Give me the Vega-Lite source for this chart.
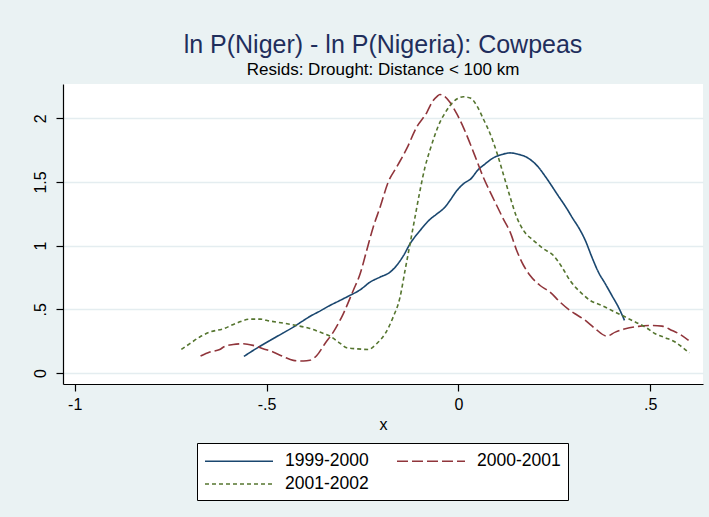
{
  "$schema": "https://vega.github.io/schema/vega-lite/v6.json",
  "width": 640,
  "height": 300,
  "autosize": {"type": "none"},
  "padding": {"left": 63, "top": 84, "right": 6, "bottom": 133},
  "background": "#EAF2F3",
  "title": {
    "text": "ln P(Niger) - ln P(Nigeria): Cowpeas",
    "subtitle": "Resids: Drought: Distance < 100 km",
    "anchor": "middle",
    "frame": "group",
    "font": "Liberation Sans",
    "fontSize": 25,
    "fontWeight": "normal",
    "color": "#1F2E5C",
    "subtitleFont": "Liberation Sans",
    "subtitleFontSize": 17,
    "subtitleColor": "#000000",
    "subtitlePadding": 4,
    "offset": 6
  },
  "data": {
    "values": [
      {"series": "1999-2000", "x": -0.559, "y": 0.130},
      {"series": "1999-2000", "x": -0.535, "y": 0.177},
      {"series": "1999-2000", "x": -0.509, "y": 0.224},
      {"series": "1999-2000", "x": -0.483, "y": 0.269},
      {"series": "1999-2000", "x": -0.457, "y": 0.314},
      {"series": "1999-2000", "x": -0.430, "y": 0.361},
      {"series": "1999-2000", "x": -0.407, "y": 0.406},
      {"series": "1999-2000", "x": -0.387, "y": 0.444},
      {"series": "1999-2000", "x": -0.361, "y": 0.486},
      {"series": "1999-2000", "x": -0.335, "y": 0.530},
      {"series": "1999-2000", "x": -0.309, "y": 0.569},
      {"series": "1999-2000", "x": -0.283, "y": 0.609},
      {"series": "1999-2000", "x": -0.256, "y": 0.653},
      {"series": "1999-2000", "x": -0.230, "y": 0.714},
      {"series": "1999-2000", "x": -0.204, "y": 0.753},
      {"series": "1999-2000", "x": -0.178, "y": 0.792},
      {"series": "1999-2000", "x": -0.161, "y": 0.844},
      {"series": "1999-2000", "x": -0.143, "y": 0.922},
      {"series": "1999-2000", "x": -0.126, "y": 1.014},
      {"series": "1999-2000", "x": -0.100, "y": 1.118},
      {"series": "1999-2000", "x": -0.074, "y": 1.206},
      {"series": "1999-2000", "x": -0.056, "y": 1.249},
      {"series": "1999-2000", "x": -0.035, "y": 1.302},
      {"series": "1999-2000", "x": -0.022, "y": 1.354},
      {"series": "1999-2000", "x": -0.004, "y": 1.432},
      {"series": "1999-2000", "x": 0.013, "y": 1.485},
      {"series": "1999-2000", "x": 0.035, "y": 1.532},
      {"series": "1999-2000", "x": 0.048, "y": 1.584},
      {"series": "1999-2000", "x": 0.070, "y": 1.642},
      {"series": "1999-2000", "x": 0.091, "y": 1.689},
      {"series": "1999-2000", "x": 0.113, "y": 1.715},
      {"series": "1999-2000", "x": 0.135, "y": 1.728},
      {"series": "1999-2000", "x": 0.152, "y": 1.720},
      {"series": "1999-2000", "x": 0.178, "y": 1.694},
      {"series": "1999-2000", "x": 0.205, "y": 1.628},
      {"series": "1999-2000", "x": 0.231, "y": 1.524},
      {"series": "1999-2000", "x": 0.257, "y": 1.406},
      {"series": "1999-2000", "x": 0.283, "y": 1.289},
      {"series": "1999-2000", "x": 0.296, "y": 1.224},
      {"series": "1999-2000", "x": 0.318, "y": 1.118},
      {"series": "1999-2000", "x": 0.331, "y": 1.040},
      {"series": "1999-2000", "x": 0.348, "y": 0.910},
      {"series": "1999-2000", "x": 0.365, "y": 0.792},
      {"series": "1999-2000", "x": 0.383, "y": 0.700},
      {"series": "1999-2000", "x": 0.400, "y": 0.609},
      {"series": "1999-2000", "x": 0.417, "y": 0.518},
      {"series": "1999-2000", "x": 0.433, "y": 0.413},

      {"series": "2000-2001", "x": -0.672, "y": 0.133},
      {"series": "2000-2001", "x": -0.648, "y": 0.165},
      {"series": "2000-2001", "x": -0.622, "y": 0.185},
      {"series": "2000-2001", "x": -0.609, "y": 0.209},
      {"series": "2000-2001", "x": -0.587, "y": 0.224},
      {"series": "2000-2001", "x": -0.561, "y": 0.230},
      {"series": "2000-2001", "x": -0.535, "y": 0.217},
      {"series": "2000-2001", "x": -0.509, "y": 0.191},
      {"series": "2000-2001", "x": -0.483, "y": 0.165},
      {"series": "2000-2001", "x": -0.457, "y": 0.130},
      {"series": "2000-2001", "x": -0.430, "y": 0.099},
      {"series": "2000-2001", "x": -0.404, "y": 0.094},
      {"series": "2000-2001", "x": -0.387, "y": 0.100},
      {"series": "2000-2001", "x": -0.369, "y": 0.138},
      {"series": "2000-2001", "x": -0.348, "y": 0.230},
      {"series": "2000-2001", "x": -0.326, "y": 0.321},
      {"series": "2000-2001", "x": -0.300, "y": 0.465},
      {"series": "2000-2001", "x": -0.274, "y": 0.648},
      {"series": "2000-2001", "x": -0.256, "y": 0.779},
      {"series": "2000-2001", "x": -0.239, "y": 0.962},
      {"series": "2000-2001", "x": -0.222, "y": 1.145},
      {"series": "2000-2001", "x": -0.204, "y": 1.302},
      {"series": "2000-2001", "x": -0.183, "y": 1.498},
      {"series": "2000-2001", "x": -0.161, "y": 1.616},
      {"series": "2000-2001", "x": -0.135, "y": 1.759},
      {"series": "2000-2001", "x": -0.109, "y": 1.929},
      {"series": "2000-2001", "x": -0.082, "y": 2.047},
      {"series": "2000-2001", "x": -0.068, "y": 2.130},
      {"series": "2000-2001", "x": -0.056, "y": 2.170},
      {"series": "2000-2001", "x": -0.048, "y": 2.187},
      {"series": "2000-2001", "x": -0.035, "y": 2.169},
      {"series": "2000-2001", "x": -0.022, "y": 2.125},
      {"series": "2000-2001", "x": -0.004, "y": 2.034},
      {"series": "2000-2001", "x": 0.013, "y": 1.929},
      {"series": "2000-2001", "x": 0.031, "y": 1.798},
      {"series": "2000-2001", "x": 0.048, "y": 1.667},
      {"series": "2000-2001", "x": 0.065, "y": 1.537},
      {"series": "2000-2001", "x": 0.083, "y": 1.420},
      {"series": "2000-2001", "x": 0.100, "y": 1.315},
      {"series": "2000-2001", "x": 0.117, "y": 1.210},
      {"series": "2000-2001", "x": 0.135, "y": 1.106},
      {"series": "2000-2001", "x": 0.152, "y": 0.962},
      {"series": "2000-2001", "x": 0.170, "y": 0.844},
      {"series": "2000-2001", "x": 0.187, "y": 0.766},
      {"series": "2000-2001", "x": 0.213, "y": 0.687},
      {"series": "2000-2001", "x": 0.239, "y": 0.635},
      {"series": "2000-2001", "x": 0.265, "y": 0.557},
      {"series": "2000-2001", "x": 0.291, "y": 0.491},
      {"series": "2000-2001", "x": 0.304, "y": 0.465},
      {"series": "2000-2001", "x": 0.331, "y": 0.413},
      {"series": "2000-2001", "x": 0.357, "y": 0.347},
      {"series": "2000-2001", "x": 0.387, "y": 0.290},
      {"series": "2000-2001", "x": 0.409, "y": 0.321},
      {"series": "2000-2001", "x": 0.435, "y": 0.347},
      {"series": "2000-2001", "x": 0.470, "y": 0.366},
      {"series": "2000-2001", "x": 0.505, "y": 0.373},
      {"series": "2000-2001", "x": 0.531, "y": 0.368},
      {"series": "2000-2001", "x": 0.557, "y": 0.334},
      {"series": "2000-2001", "x": 0.578, "y": 0.303},
      {"series": "2000-2001", "x": 0.600, "y": 0.256},

      {"series": "2001-2002", "x": -0.722, "y": 0.185},
      {"series": "2001-2002", "x": -0.700, "y": 0.230},
      {"series": "2001-2002", "x": -0.670, "y": 0.290},
      {"series": "2001-2002", "x": -0.648, "y": 0.321},
      {"series": "2001-2002", "x": -0.613, "y": 0.347},
      {"series": "2001-2002", "x": -0.578, "y": 0.392},
      {"series": "2001-2002", "x": -0.543, "y": 0.423},
      {"series": "2001-2002", "x": -0.517, "y": 0.423},
      {"series": "2001-2002", "x": -0.491, "y": 0.408},
      {"series": "2001-2002", "x": -0.457, "y": 0.392},
      {"series": "2001-2002", "x": -0.422, "y": 0.373},
      {"series": "2001-2002", "x": -0.387, "y": 0.350},
      {"series": "2001-2002", "x": -0.361, "y": 0.321},
      {"series": "2001-2002", "x": -0.335, "y": 0.290},
      {"series": "2001-2002", "x": -0.309, "y": 0.235},
      {"series": "2001-2002", "x": -0.291, "y": 0.198},
      {"series": "2001-2002", "x": -0.265, "y": 0.190},
      {"series": "2001-2002", "x": -0.235, "y": 0.185},
      {"series": "2001-2002", "x": -0.213, "y": 0.230},
      {"series": "2001-2002", "x": -0.191, "y": 0.308},
      {"series": "2001-2002", "x": -0.170, "y": 0.439},
      {"series": "2001-2002", "x": -0.152, "y": 0.596},
      {"series": "2001-2002", "x": -0.139, "y": 0.805},
      {"series": "2001-2002", "x": -0.126, "y": 1.014},
      {"series": "2001-2002", "x": -0.113, "y": 1.224},
      {"series": "2001-2002", "x": -0.100, "y": 1.432},
      {"series": "2001-2002", "x": -0.087, "y": 1.616},
      {"series": "2001-2002", "x": -0.074, "y": 1.750},
      {"series": "2001-2002", "x": -0.061, "y": 1.870},
      {"series": "2001-2002", "x": -0.048, "y": 1.970},
      {"series": "2001-2002", "x": -0.035, "y": 2.040},
      {"series": "2001-2002", "x": -0.022, "y": 2.099},
      {"series": "2001-2002", "x": -0.004, "y": 2.151},
      {"series": "2001-2002", "x": 0.013, "y": 2.169},
      {"series": "2001-2002", "x": 0.031, "y": 2.159},
      {"series": "2001-2002", "x": 0.048, "y": 2.099},
      {"series": "2001-2002", "x": 0.065, "y": 1.995},
      {"series": "2001-2002", "x": 0.083, "y": 1.877},
      {"series": "2001-2002", "x": 0.100, "y": 1.733},
      {"series": "2001-2002", "x": 0.117, "y": 1.563},
      {"series": "2001-2002", "x": 0.135, "y": 1.380},
      {"series": "2001-2002", "x": 0.152, "y": 1.224},
      {"series": "2001-2002", "x": 0.170, "y": 1.118},
      {"series": "2001-2002", "x": 0.196, "y": 1.040},
      {"series": "2001-2002", "x": 0.222, "y": 0.975},
      {"series": "2001-2002", "x": 0.248, "y": 0.922},
      {"series": "2001-2002", "x": 0.270, "y": 0.831},
      {"series": "2001-2002", "x": 0.291, "y": 0.726},
      {"series": "2001-2002", "x": 0.318, "y": 0.635},
      {"series": "2001-2002", "x": 0.344, "y": 0.569},
      {"series": "2001-2002", "x": 0.374, "y": 0.530},
      {"series": "2001-2002", "x": 0.400, "y": 0.491},
      {"series": "2001-2002", "x": 0.430, "y": 0.447},
      {"series": "2001-2002", "x": 0.461, "y": 0.400},
      {"series": "2001-2002", "x": 0.487, "y": 0.361},
      {"series": "2001-2002", "x": 0.513, "y": 0.308},
      {"series": "2001-2002", "x": 0.539, "y": 0.277},
      {"series": "2001-2002", "x": 0.565, "y": 0.243},
      {"series": "2001-2002", "x": 0.583, "y": 0.204},
      {"series": "2001-2002", "x": 0.602, "y": 0.157}
    ]
  },
  "mark": {"type": "line", "strokeWidth": 1.6, "interpolate": "monotone", "clip": true},
  "encoding": {
    "x": {
      "field": "x",
      "type": "quantitative",
      "scale": {"domain": [-1.0305, 0.6376], "nice": false, "zero": false},
      "axis": {
        "title": "x",
        "values": [-1, -0.5, 0, 0.5],
        "format": "~g",
        "labelExpr": "replace(replace(datum.label, '\u2212', '-'), '0.', '.')",
        "grid": false,
        "tickSize": 7,
        "labelPadding": 5,
        "titlePadding": 4
      }
    },
    "y": {
      "field": "y",
      "type": "quantitative",
      "scale": {"domain": [-0.0863, 2.269], "nice": false, "zero": false},
      "axis": {
        "title": null,
        "values": [0, 0.5, 1, 1.5, 2],
        "format": "~g",
        "labelExpr": "replace(datum.label, '0.', '.')",
        "labelAngle": -90,
        "labelAlign": "center",
        "labelBaseline": "bottom",
        "grid": true,
        "tickSize": 7,
        "labelPadding": 8
      }
    },
    "color": {
      "field": "series",
      "type": "nominal",
      "scale": {"domain": ["1999-2000", "2000-2001", "2001-2002"], "range": ["#1A476F", "#90353B", "#55752F"]},
      "legend": {
        "title": null,
        "orient": "none",
        "legendX": 134,
        "legendY": 359,
        "columns": 2,
        "direction": "horizontal",
        "symbolType": "M-1,0H5.8",
        "symbolSize": 400,
        "symbolStrokeWidth": 1.6,
        "labelFont": "Liberation Sans",
        "labelFontSize": 17.5,
        "labelColor": "#000000",
        "labelOffset": 59,
        "labelLimit": 200,
        "columnPadding": 24,
        "rowPadding": 3,
        "padding": 7,
        "fillColor": "#FFFFFF",
        "strokeColor": "#000000",
        "cornerRadius": 0
      }
    },
    "strokeDash": {
      "field": "series",
      "type": "nominal",
      "scale": {"domain": ["1999-2000", "2000-2001", "2001-2002"], "range": [[1, 0], [11, 4], [4, 3]]},
      "legend": {
        "title": null,
        "orient": "none",
        "legendX": 134,
        "legendY": 359,
        "columns": 2,
        "direction": "horizontal",
        "symbolType": "M-1,0H5.8",
        "symbolSize": 400,
        "symbolStrokeWidth": 1.6,
        "labelFont": "Liberation Sans",
        "labelFontSize": 17.5,
        "labelColor": "#000000",
        "labelOffset": 59,
        "labelLimit": 200,
        "columnPadding": 24,
        "rowPadding": 3,
        "padding": 7,
        "fillColor": "#FFFFFF",
        "strokeColor": "#000000",
        "cornerRadius": 0
      }
    }
  },
  "config": {
    "view": {"fill": "#FFFFFF", "stroke": null},
    "axis": {
      "domainColor": "#000000",
      "domainWidth": 1.2,
      "tickColor": "#000000",
      "tickWidth": 1.2,
      "labelColor": "#000000",
      "labelFont": "Liberation Sans",
      "labelFontSize": 16,
      "titleFont": "Liberation Sans",
      "titleFontSize": 16,
      "titleFontWeight": "normal",
      "titleColor": "#000000",
      "gridColor": "#E4EDF0",
      "gridWidth": 1.6
    }
  }
}
